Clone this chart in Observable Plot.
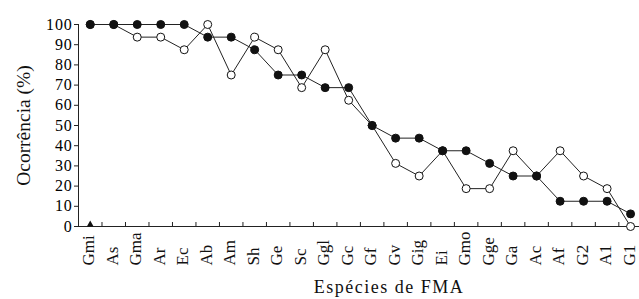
<!DOCTYPE html>
<html>
<head>
<meta charset="utf-8">
<script src="https://cdn.jsdelivr.net/npm/d3@7"></script>
<script src="https://cdn.jsdelivr.net/npm/@observablehq/plot@0.6"></script>
<style>
  html, body { margin: 0; padding: 0; background: #fff; }
  #chart svg, #chart svg text { font-family: "Liberation Serif", "Times New Roman", serif !important; }
  #chart .xtitle text { letter-spacing: 1.5px; }
  #chart .yticks text { letter-spacing: 0.8px; }
</style>
</head>
<body>
<div id="chart"></div>
<script>
const categories = ["Gmi","As","Gma","Ar","Ec","Ab","Am","Sh","Ge","Sc","Ggl","Gc","Gf","Gv","Gig","Ei","Gmo","Gge","Ga","Ac","Af","G2","A1","G1"];
const filledValues = [100,100,100,100,100,93.75,93.75,87.5,75,75,68.75,68.75,50,43.75,43.75,37.5,37.5,31.25,25,25,12.5,12.5,12.5,6.25];
const openValues = [100,100,93.75,93.75,87.5,100,75,93.75,87.5,68.75,87.5,62.5,50,31.25,25,37.5,18.75,18.75,37.5,25,37.5,25,18.75,0];
const yTicks = [0,10,20,30,40,50,60,70,80,90,100];
const triangleMarker = [{cat: "Gmi", value: 0}];

const filled = categories.map((c, i) => ({i, cat: c, v: filledValues[i]}));
const open = categories.map((c, i) => ({i, cat: c, v: openValues[i]}));
const between = categories.slice(1).map((c, i) => i + 0.5);
const idx = c => categories.indexOf(c);
const serif = "Liberation Serif";

const chart = Plot.plot({
  width: 639,
  height: 299,
  marginLeft: 78,
  marginRight: 0,
  marginTop: 24,
  marginBottom: 73,
  style: {fontFamily: serif, color: "#000", background: "#fff"},
  x: {type: "linear", domain: [-0.5, 23.38], axis: null},
  y: {domain: [0, 100], axis: null},
  marks: [
    Plot.axisY(yTicks, {anchor: "left", tickSize: 4, tickPadding: 2, fontSize: 16, fontFamily: serif, label: null, stroke: "#222", className: "yticks"}),
    Plot.ruleX([-0.5], {y1: 0, y2: 100, stroke: "#222", strokeWidth: 1}),
    Plot.ruleY([0], {stroke: "#222", strokeWidth: 1}),
    Plot.tickX(between, {x: d => d, insetTop: 198, stroke: "#222"}),
    Plot.text(categories, {x: (d, i) => i, frameAnchor: "bottom", rotate: -90, textAnchor: "start", lineAnchor: "middle", dy: 39, dx: -1.5, fontSize: 17, fontFamily: serif, fill: "#111"}),
    Plot.text(["Ocorrência (%)"], {frameAnchor: "left", rotate: -90, textAnchor: "middle", lineAnchor: "middle", dx: -55, fontSize: 19.5, fontFamily: serif, fill: "#111"}),
    Plot.text(["Espécies de FMA"], {frameAnchor: "bottom", textAnchor: "middle", lineAnchor: "middle", dy: 61, dx: 30, fontSize: 18, fontFamily: serif, fill: "#111", className: "xtitle"}),
    Plot.line(open, {x: "i", y: "v", stroke: "#222", strokeWidth: 1}),
    Plot.line(filled, {x: "i", y: "v", stroke: "#222", strokeWidth: 1}),
    Plot.dot(open, {x: "i", y: "v", r: 4, fill: "#fff", stroke: "#111", strokeWidth: 1}),
    Plot.dot(filled, {x: "i", y: "v", r: 4, fill: "#111", stroke: "#111", strokeWidth: 1}),
    Plot.dot(triangleMarker, {x: d => idx(d.cat), y: "value", symbol: "triangle", r: 2.5, fill: "#111", dy: -2})
  ]
});
document.getElementById("chart").appendChild(chart);
</script>
</body>
</html>
